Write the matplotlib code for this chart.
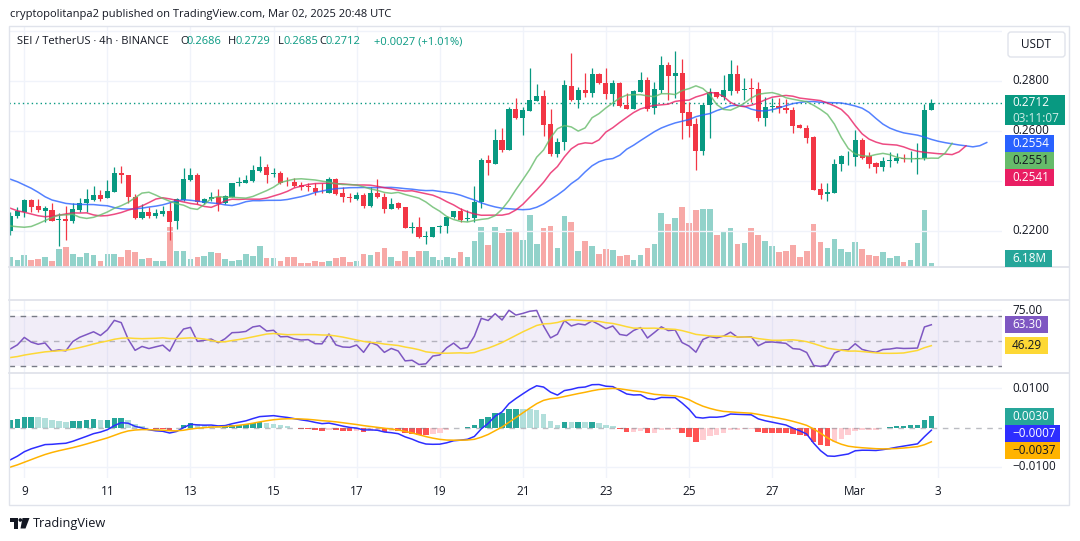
import matplotlib
matplotlib.use('Agg')
import matplotlib.pyplot as plt
from matplotlib.patches import Rectangle, FancyBboxPatch, Polygon, Circle
import numpy as np

plt.rcParams['font.family'] = ['Open Sans', 'DejaVu Sans']

# SEI/USDT 4h candles, Feb 8 16:00 -> Mar 2 20:00 UTC
opens = [
    0.2201, 0.2260, 0.2277, 0.2324, 0.2300, 0.2281, 0.2284, 0.2244, 0.2247, 0.2241,
    0.2284, 0.2311, 0.2324, 0.2344, 0.2331, 0.2357, 0.2433, 0.2424, 0.2335, 0.2251,
    0.2277, 0.2260, 0.2268, 0.2281, 0.2241, 0.2324, 0.2404, 0.2424, 0.2313, 0.2327,
    0.2337, 0.2311, 0.2337, 0.2393, 0.2393, 0.2401, 0.2441, 0.2455, 0.2427, 0.2433,
    0.2397, 0.2396, 0.2384, 0.2381, 0.2372, 0.2357, 0.2353, 0.2407, 0.2353, 0.2335,
    0.2328, 0.2344, 0.2300, 0.2351, 0.2335, 0.2289, 0.2311, 0.2295, 0.2213, 0.2215,
    0.2177, 0.2177, 0.2215, 0.2220, 0.2255, 0.2281, 0.2247, 0.2251, 0.2317, 0.2484,
    0.2469, 0.2564, 0.2524, 0.2688, 0.2653, 0.2681, 0.2721, 0.2740, 0.2628, 0.2508,
    0.2555, 0.2780, 0.2724, 0.2764, 0.2753, 0.2827, 0.2791, 0.2748, 0.2791, 0.2704,
    0.2688, 0.2757, 0.2804, 0.2691, 0.2764, 0.2864, 0.2821, 0.2831, 0.2675, 0.2628,
    0.2520, 0.2704, 0.2755, 0.2735, 0.2761, 0.2828, 0.2764, 0.2771, 0.2768, 0.2651,
    0.2697, 0.2700, 0.2693, 0.2683, 0.2624, 0.2613, 0.2575, 0.2367, 0.2347, 0.2353,
    0.2467, 0.2500, 0.2497, 0.2564, 0.2500, 0.2473, 0.2455, 0.2481, 0.2481, 0.2491,
    0.2487, 0.2488, 0.2491, 0.2686,
]
highs = [
    0.2277, 0.2297, 0.2327, 0.2327, 0.2327, 0.2300, 0.2313, 0.2273, 0.2300, 0.2311,
    0.2331, 0.2367, 0.2380, 0.2364, 0.2404, 0.2457, 0.2460, 0.2424, 0.2348, 0.2308,
    0.2297, 0.2287, 0.2300, 0.2317, 0.2331, 0.2451, 0.2451, 0.2431, 0.2331, 0.2357,
    0.2367, 0.2344, 0.2393, 0.2415, 0.2424, 0.2464, 0.2500, 0.2468, 0.2451, 0.2441,
    0.2415, 0.2411, 0.2397, 0.2393, 0.2391, 0.2393, 0.2417, 0.2411, 0.2377, 0.2351,
    0.2357, 0.2351, 0.2377, 0.2407, 0.2351, 0.2331, 0.2317, 0.2297, 0.2237, 0.2255,
    0.2201, 0.2217, 0.2224, 0.2260, 0.2281, 0.2291, 0.2284, 0.2380, 0.2491, 0.2504,
    0.2608, 0.2611, 0.2697, 0.2733, 0.2697, 0.2853, 0.2787, 0.2764, 0.2688, 0.2571,
    0.2804, 0.2911, 0.2777, 0.2831, 0.2851, 0.2833, 0.2851, 0.2804, 0.2795, 0.2751,
    0.2764, 0.2835, 0.2817, 0.2797, 0.2900, 0.2877, 0.2920, 0.2888, 0.2715, 0.2653,
    0.2711, 0.2773, 0.2757, 0.2824, 0.2884, 0.2864, 0.2811, 0.2811, 0.2795, 0.2737,
    0.2731, 0.2731, 0.2728, 0.2697, 0.2627, 0.2624, 0.2581, 0.2391, 0.2391, 0.2488,
    0.2504, 0.2520, 0.2604, 0.2571, 0.2517, 0.2477, 0.2497, 0.2515, 0.2511, 0.2507,
    0.2520, 0.2551, 0.2707, 0.2729,
]
lows = [
    0.2184, 0.2251, 0.2257, 0.2277, 0.2277, 0.2237, 0.2241, 0.2140, 0.2164, 0.2233,
    0.2277, 0.2277, 0.2321, 0.2321, 0.2331, 0.2357, 0.2393, 0.2313, 0.2247, 0.2247,
    0.2251, 0.2251, 0.2260, 0.2164, 0.2207, 0.2321, 0.2401, 0.2308, 0.2308, 0.2321,
    0.2281, 0.2308, 0.2335, 0.2380, 0.2391, 0.2397, 0.2437, 0.2391, 0.2415, 0.2388,
    0.2380, 0.2377, 0.2364, 0.2361, 0.2344, 0.2351, 0.2353, 0.2344, 0.2317, 0.2317,
    0.2324, 0.2291, 0.2297, 0.2331, 0.2273, 0.2288, 0.2287, 0.2213, 0.2191, 0.2171,
    0.2148, 0.2177, 0.2193, 0.2193, 0.2251, 0.2237, 0.2241, 0.2237, 0.2291, 0.2424,
    0.2467, 0.2517, 0.2524, 0.2648, 0.2584, 0.2681, 0.2721, 0.2581, 0.2501, 0.2495,
    0.2524, 0.2720, 0.2693, 0.2737, 0.2735, 0.2787, 0.2728, 0.2701, 0.2697, 0.2688,
    0.2688, 0.2757, 0.2681, 0.2668, 0.2751, 0.2724, 0.2731, 0.2568, 0.2577, 0.2444,
    0.2504, 0.2571, 0.2731, 0.2724, 0.2744, 0.2751, 0.2724, 0.2717, 0.2640, 0.2621,
    0.2677, 0.2671, 0.2671, 0.2591, 0.2611, 0.2551, 0.2364, 0.2328, 0.2321, 0.2351,
    0.2440, 0.2464, 0.2461, 0.2488, 0.2453, 0.2431, 0.2440, 0.2457, 0.2471, 0.2475,
    0.2477, 0.2427, 0.2484, 0.2685,
]
closes = [
    0.2260, 0.2281, 0.2324, 0.2297, 0.2284, 0.2291, 0.2241, 0.2247, 0.2241, 0.2287,
    0.2311, 0.2327, 0.2344, 0.2327, 0.2361, 0.2433, 0.2423, 0.2335, 0.2251, 0.2277,
    0.2260, 0.2271, 0.2281, 0.2237, 0.2327, 0.2407, 0.2424, 0.2317, 0.2327, 0.2337,
    0.2308, 0.2340, 0.2393, 0.2396, 0.2404, 0.2444, 0.2455, 0.2425, 0.2431, 0.2393,
    0.2395, 0.2381, 0.2375, 0.2377, 0.2356, 0.2355, 0.2407, 0.2348, 0.2335, 0.2333,
    0.2344, 0.2301, 0.2351, 0.2335, 0.2288, 0.2308, 0.2291, 0.2213, 0.2216, 0.2177,
    0.2180, 0.2215, 0.2220, 0.2255, 0.2280, 0.2244, 0.2251, 0.2317, 0.2484, 0.2471,
    0.2564, 0.2524, 0.2688, 0.2653, 0.2684, 0.2724, 0.2740, 0.2624, 0.2508, 0.2555,
    0.2784, 0.2724, 0.2764, 0.2753, 0.2827, 0.2791, 0.2748, 0.2791, 0.2701, 0.2688,
    0.2760, 0.2804, 0.2688, 0.2768, 0.2864, 0.2821, 0.2831, 0.2673, 0.2621, 0.2520,
    0.2704, 0.2755, 0.2735, 0.2764, 0.2828, 0.2761, 0.2768, 0.2768, 0.2651, 0.2695,
    0.2700, 0.2691, 0.2683, 0.2621, 0.2613, 0.2573, 0.2364, 0.2344, 0.2355, 0.2467,
    0.2500, 0.2501, 0.2564, 0.2493, 0.2469, 0.2455, 0.2480, 0.2484, 0.2493, 0.2488,
    0.2489, 0.2491, 0.2684, 0.2712,
]
# volume in millions
volumes = [
    15, 10.5, 18, 10.5, 12, 15, 9, 27, 30, 19.5,
    15, 21, 18, 9, 19.5, 19.5, 15, 25.5, 22.5, 12,
    13.5, 9, 9, 60, 24, 24, 12, 15, 16.5, 22.5,
    21, 12, 9, 10.5, 19.5, 16.5, 31.5, 12.5, 12.5, 9,
    14, 14, 6, 5, 9, 6.5, 8, 13, 14, 6.5,
    9, 19, 18, 21.5, 27.5, 15, 9, 24, 15, 23,
    24, 14, 10, 15, 13, 21.5, 14, 38, 60, 33,
    60, 51, 57, 52.5, 40.5, 78, 34.5, 58.5, 61.5, 28.5,
    76.5, 67.5, 24, 39, 31.5, 19.5, 27, 25.5, 16.5, 18,
    10.5, 18, 28.5, 34.5, 81, 64.5, 73.5, 90, 66, 85.5,
    87, 87, 48, 54, 58.5, 34.5, 36, 58.5, 48, 39,
    31.5, 22.5, 24, 33, 15, 24, 64.5, 37.5, 28.5, 42,
    27, 22.5, 37.5, 27, 18, 16.5, 22.5, 13.5, 16.5, 7.5,
    10.5, 36, 85.5, 6.2,
]

# bar index of each midnight label (bar 0 = Feb 8 16:00)
day_ticks = [2, 14, 26, 38, 50, 62, 74, 86, 98, 110, 122, 134]
day_labels = ['9', '11', '13', '15', '17', '19', '21', '23', '25', '27', 'Mar', '3']

# indicator state before the first visible bar
jaw_head = [0.2407, 0.2397, 0.2384, 0.2371, 0.2355, 0.2337, 0.2324, 0.2317]
teeth_head = [0.2291, 0.2281, 0.2275, 0.2268, 0.2261]
lips_head = [0.2220, 0.2217, 0.2215]
rsi_prev_close = 0.2201
rsi_avg_gain0 = 0.0008
rsi_avg_loss0 = 0.0016
rsi_ma_seed = 36.5
ema12_0 = 0.2240
ema26_0 = 0.2330
signal0 = -0.0105

# value tags on the right scale
last_price = '0.2712'
countdown = '03:11:07'
jaw_tag, lips_tag, teeth_tag = '0.2554', '0.2551', '0.2541'
vol_tag = '6.18M'
rsi_tag, rsi_ma_tag = '63.30', '46.29'
hist_tag, macd_tag, signal_tag = '0.0030', '\u22120.0007', '\u22120.0037'

W, H = 1080, 541
X0, X1 = 9, 1002
BAR_PX = 6.924
FEB9_PX = 24.3

UP, DOWN = '#089981', '#F23645'
TXT = '#131722'
GRID = '#F0F3FA'
SEP = '#E0E3EB'


def box(y0, y1):
    return [X0 / W, 1 - y1 / H, (X1 - X0) / W, (y1 - y0) / H]


def smma(src, n, seed):
    out, s = [], seed
    for v in src:
        s = (s * (n - 1) + v) / n
        out.append(s)
    return out


def rsi_series(cl):
    prev, ag, al = rsi_prev_close, rsi_avg_gain0, rsi_avg_loss0
    out = []
    for c in cl:
        ch = c - prev
        ag = (ag * 13 + max(ch, 0)) / 14
        al = (al * 13 + max(-ch, 0)) / 14
        out.append(100 - 100 / (1 + ag / al))
        prev = c
    return out


def macd_series(cl):
    e12, e26, sig = ema12_0, ema26_0, signal0
    m_out, s_out = [], []
    for c in cl:
        e12 += (c - e12) * 2 / 13
        e26 += (c - e26) * 2 / 27
        m = e12 - e26
        sig += (m - sig) * 2 / 10
        m_out.append(m)
        s_out.append(sig)
    return np.array(m_out), np.array(s_out)


def style(ax, yticks):
    ax.set_xlim(2 - (FEB9_PX - X0) / BAR_PX, 2 + (X1 - FEB9_PX) / BAR_PX)
    ax.set_xticks(day_ticks)
    ax.set_yticks(yticks)
    ax.grid(True, color=GRID, lw=1)
    ax.set_axisbelow(True)
    ax.tick_params(length=0, labelleft=False, labelbottom=False)
    for s in ax.spines.values():
        s.set_visible(False)


def main():
    n = len(closes)
    idx = np.arange(n)
    o, h, l, c = map(np.array, (opens, highs, lows, closes))
    up = c >= o

    fig = plt.figure(figsize=(W / 100, H / 100), dpi=100)

    # volume overlay, under the candles
    axv = fig.add_axes(box(150, 266.7))
    axv.bar(idx, volumes, width=0.82,
            color=['#92D2CA' if u else '#F7A9A7' for u in up])
    axv.set_ylim(0, 175)
    axv.set_xlim(2 - (FEB9_PX - X0) / BAR_PX, 2 + (X1 - FEB9_PX) / BAR_PX)
    axv.axis('off')

    # price pane
    ax = fig.add_axes(box(27, 267))
    ax.patch.set_alpha(0)
    style(ax, [0.22, 0.24, 0.26, 0.28, 0.30])
    ax.set_ylim(0.28 - (267 - 81) * 0.0004, 0.28 + (81 - 27) * 0.0004)
    colors = np.where(up, UP, DOWN)
    ax.vlines(idx, l, h, color=colors, lw=0.9, zorder=3)
    body = np.maximum(np.abs(c - o), 0.00012)
    ax.bar(idx, body, bottom=np.minimum(o, c), width=0.74, color=colors, zorder=4)

    med = (h + l) / 2
    jaw = jaw_head + smma(med, 13, jaw_head[-1])
    teeth = teeth_head + smma(med, 8, teeth_head[-1])
    lips = lips_head + smma(med, 5, lips_head[-1])
    ax.plot(np.arange(len(jaw)), jaw, color='#2962FF', lw=1.1, alpha=0.8, zorder=5)
    ax.plot(np.arange(len(teeth)), teeth, color='#E91E63', lw=1.1, alpha=0.8, zorder=5)
    ax.plot(np.arange(len(lips)), lips, color='#66BB6A', lw=1.1, alpha=0.8, zorder=5)
    ax.axhline(c[-1], color=UP, lw=1, ls=(0, (1, 2.2)), zorder=2)

    # RSI pane
    axr = fig.add_axes(box(300, 372.7))
    style(axr, [75])
    axr.set_ylim(24.88, 83.04)
    rsi = rsi_series(closes)
    hist_r = [rsi_ma_seed] * 13 + rsi
    rsi_ma = [np.mean(hist_r[i:i + 14]) for i in range(n)]
    axr.axhspan(30, 70, color='#7E57C2', alpha=0.1, lw=0)
    for lvl, a in ((70, 1), (50, 0.5), (30, 1)):
        axr.axhline(lvl, color='#787B86', lw=1, ls=(0, (4, 4)), alpha=a)
    axr.plot(idx, rsi, color='#7E57C2', lw=1.1)
    axr.plot(idx, rsi_ma, color='#FDD835', lw=1.1)

    # MACD pane
    axm = fig.add_axes(box(372.7, 478))
    style(axm, [-0.01, 0.01])
    axm.set_ylim(-0.01283, 0.01403)
    macd, signal = macd_series(closes)
    hist = macd - signal
    prev = np.concatenate([[ema12_0 - ema26_0 - signal0], hist[:-1]])
    hcol = []
    for hv, pv in zip(hist, prev):
        if hv >= 0:
            hcol.append('#26A69A' if hv > pv else '#B2DFDB')
        else:
            hcol.append('#FFCDD2' if hv > pv else '#FF5252')
    axm.axhline(0, color='#787B86', lw=1, ls=(0, (4, 4)), alpha=0.5)
    axm.bar(idx, hist, width=0.8, color=hcol)
    axm.plot(idx, macd, color='#2E2EFF', lw=1.1)
    axm.plot(idx, signal, color='#FFB300', lw=1.1)
    axm.set_xticklabels(day_labels)
    axm.tick_params(labelbottom=True, labelsize=8.5, labelcolor=TXT, pad=5)

    # chrome in pixel coordinates
    ov = fig.add_axes([0, 0, 1, 1], zorder=10)
    ov.set_xlim(0, W)
    ov.set_ylim(H, 0)
    ov.axis('off')
    ov.patch.set_alpha(0)

    def py(a, v):
        return H - a.transData.transform((0, v))[1]

    ov.add_patch(Rectangle((9, 26), 1060, 479, fill=False, ec=SEP, lw=1))
    for y in (267, 300, 372.7):
        ov.plot([9, 1069], [y, y], color=SEP, lw=1.3)

    ov.text(10, 15, 'cryptopolitanpa2 published on TradingView.com, Mar 02, 2025 20:48 UTC',
            fontsize=8.0, color=TXT, va='center')
    ov.text(17, 42, 'SEI / TetherUS \u00b7 4h \u00b7 BINANCE', fontsize=8.0, color=TXT, va='center')
    for xk, k, xv, v in ((180, 'O', 186.7, '0.2686'), (227.7, 'H', 235, '0.2729'),
                         (277.7, 'L', 283.3, '0.2685'), (319.3, 'C', 325.3, '0.2712')):
        ov.text(xk, 42, k, fontsize=8.0, color=TXT, va='center')
        ov.text(xv, 42, v, fontsize=8.0, color=UP, va='center')
    ov.text(374.3, 42, '+0.0027 (+1.01%)', fontsize=8.0, color=UP, va='center')

    ov.add_patch(FancyBboxPatch((1008, 32), 57, 25, boxstyle='round,pad=0,rounding_size=3',
                                fc='white', ec=SEP, lw=1))
    ov.text(1036, 45, 'USDT', fontsize=8.5, color=TXT, ha='center', va='center')

    # scale labels that stay visible beside the value tags
    for v, s in ((0.28, '0.2800'), (0.26, '0.2600'), (0.22, '0.2200')):
        ov.text(1012, py(ax, v), s, fontsize=8.5, color=TXT, va='center')
    ov.text(1012, py(axr, 75), '75.00', fontsize=8.5, color=TXT, va='center')
    for v, s in ((0.01, '0.0100'), (-0.01, '\u22120.0100')):
        ov.text(1012, py(axm, v), s, fontsize=8.5, color=TXT, va='center')

    def tag(yc, text, bg, fg='white', w=49, hgt=17):
        ov.add_patch(Rectangle((1005, yc - hgt / 2), w, hgt, fc=bg, ec='none', zorder=3))
        ov.text(1012, yc, text, fontsize=8.5, color=fg, va='center', zorder=4)

    yc = py(ax, c[-1])
    ov.add_patch(Rectangle((1005, yc - 8), 60, 30, fc=UP, ec='none', zorder=3))
    ov.text(1012, yc, last_price, fontsize=8.5, color='white', va='center', zorder=4)
    ov.text(1012, yc + 15, countdown, fontsize=8.5, color='#CFEDE7', va='center', zorder=4)

    yj = py(ax, jaw[-1]) + 1
    tag(yj, jaw_tag, '#2962FF')
    tag(yj + 17, lips_tag, '#66BB6A', fg=TXT)
    tag(yj + 34, teeth_tag, '#E91E63')
    tag(258, vol_tag, '#26A69A', w=47)

    tag(py(axr, rsi[-1]), rsi_tag, '#7E57C2', w=43)
    tag(py(axr, rsi_ma[-1]), rsi_ma_tag, '#FDD835', fg=TXT, w=43)

    yh = py(axm, hist[-1])
    tag(yh, hist_tag, '#26A69A')
    tag(yh + 17, macd_tag, '#2E2EFF', w=55)
    tag(yh + 34, signal_tag, '#FFB300', fg=TXT, w=55)

    # TradingView logo
    ov.add_patch(Rectangle((10, 518), 7.5, 3.5, fc=TXT, ec='none'))
    ov.add_patch(Rectangle((13.5, 518), 4, 10.5, fc=TXT, ec='none'))
    ov.add_patch(Circle((20.3, 520), 1.8, fc=TXT, ec='none'))
    ov.add_patch(Polygon([(22.5, 518), (29.5, 518), (25.5, 528.5), (20.5, 528.5)],
                         closed=True, fc=TXT, ec='none'))
    ov.text(33, 523.5, 'TradingView', fontsize=9.2, color=TXT, va='center')

    fig.savefig('out.png', dpi=100, facecolor='white')


if __name__ == '__main__':
    main()
